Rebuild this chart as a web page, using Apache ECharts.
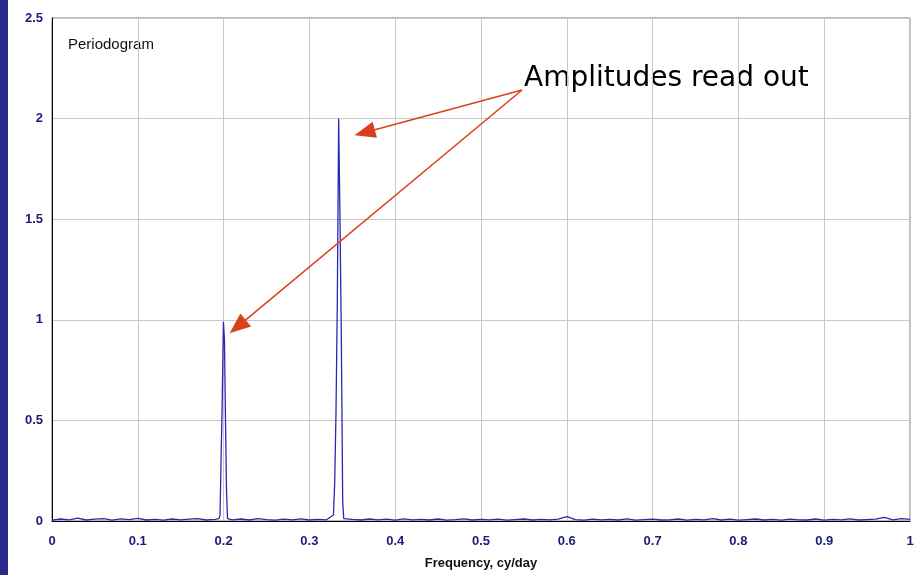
<!DOCTYPE html>
<html>
<head>
<meta charset="utf-8">
<script src="https://cdn.jsdelivr.net/npm/echarts@6/dist/echarts.min.js"></script>
<style>
html,body{margin:0;padding:0;background:#fff;}
#bar{position:absolute;left:0;top:0;width:8px;height:575px;background:#2b2b8c;}
#c{position:absolute;left:0;top:0;width:918px;height:575px;}
</style>
</head>
<body>
<div id="c"></div>
<div id="bar"></div>
<script>
// Frequency (cy/day) and amplitude
const freqs = [
  0.00,0.01,0.02,0.03,0.04,0.05,0.06,0.07,0.08,0.09,
  0.10,0.11,0.12,0.13,0.14,0.15,0.16,0.17,0.18,0.19,
  0.1946,0.1958,0.1970,0.1982,0.1998,0.2010,0.2022,0.2034,0.2046,
  0.21,0.22,0.23,0.24,0.25,0.26,0.27,0.28,0.29,0.30,0.31,0.32,
  0.3280,0.3295,0.3310,0.3325,0.3341,0.3357,0.3372,0.3388,0.3400,
  0.35,0.36,0.37,0.38,0.39,0.40,0.41,0.42,0.43,0.44,
  0.45,0.46,0.47,0.48,0.49,0.50,0.51,0.52,0.53,0.54,
  0.55,0.56,0.57,0.58,0.59,0.60,0.61,0.62,0.63,0.64,
  0.65,0.66,0.67,0.68,0.69,0.70,0.71,0.72,0.73,0.74,
  0.75,0.76,0.77,0.78,0.79,0.80,0.81,0.82,0.83,0.84,
  0.85,0.86,0.87,0.88,0.89,0.90,0.91,0.92,0.93,0.94,
  0.95,0.96,0.97,0.98,0.99,1.00
];
const amps = [
  0.004,0.010,0.006,0.014,0.005,0.009,0.012,0.004,0.011,0.007,
  0.013,0.005,0.008,0.004,0.010,0.006,0.009,0.012,0.005,0.008,
  0.012,0.030,0.290,0.550,0.990,0.900,0.500,0.150,0.012,
  0.006,0.010,0.005,0.012,0.007,0.004,0.009,0.006,0.011,0.005,0.008,0.006,
  0.030,0.190,0.540,1.070,2.000,1.480,0.920,0.100,0.012,
  0.008,0.005,0.010,0.006,0.009,0.004,0.011,0.006,0.008,0.005,
  0.010,0.004,0.007,0.011,0.005,0.008,0.006,0.009,0.004,0.007,
  0.010,0.005,0.008,0.006,0.009,0.022,0.007,0.004,0.009,0.006,
  0.008,0.005,0.011,0.004,0.007,0.009,0.005,0.006,0.010,0.004,
  0.008,0.006,0.012,0.005,0.009,0.004,0.007,0.010,0.005,0.008,
  0.004,0.009,0.006,0.005,0.010,0.004,0.008,0.006,0.011,0.005,
  0.007,0.009,0.018,0.006,0.012,0.008
];
const xTicks = [0,0.1,0.2,0.3,0.4,0.5,0.6,0.7,0.8,0.9,1];
const yTicks = [0,0.5,1,1.5,2,2.5];
const annotationText = 'Amplitudes read out';
const chartLabel = 'Periodogram';
const xName = 'Frequency, cy/day';

const data = freqs.map((f, i) => [f, amps[i]]);
const chart = echarts.init(document.getElementById('c'));
const labelStyle = {color:'#1c1c78', fontWeight:'bold', fontSize:13, fontFamily:'Liberation Sans, Arial, sans-serif'};
chart.setOption({
  animation:false,
  backgroundColor:'#fff',
  grid:{left:52, right:8, top:18, bottom:54, show:true, borderColor:'#777', borderWidth:1, backgroundColor:'#fff'},
  xAxis:{
    type:'value', min:xTicks[0], max:xTicks[xTicks.length-1], interval:0.1,
    name:xName, nameLocation:'middle', nameGap:36,
    nameTextStyle:{color:'#111', fontWeight:'bold', fontSize:13, fontFamily:'Liberation Sans, Arial, sans-serif'},
    axisLine:{lineStyle:{color:'#000', width:1}},
    axisTick:{show:false},
    axisLabel:Object.assign({margin:14}, labelStyle),
    splitLine:{show:true, lineStyle:{color:'#c8c8c8', width:1}}
  },
  yAxis:{
    type:'value', min:yTicks[0], max:yTicks[yTicks.length-1], interval:0.5,
    axisLine:{show:true, lineStyle:{color:'#000', width:1}},
    axisTick:{show:false},
    axisLabel:Object.assign({margin:9}, labelStyle),
    splitLine:{show:true, lineStyle:{color:'#c8c8c8', width:1}}
  },
  graphic:[
    {type:'text', left:68, top:37, style:{text:chartLabel, fill:'#111', fontSize:15, fontFamily:'Liberation Sans, Arial, sans-serif'}},
    {type:'text', left:524, top:65, style:{text:annotationText, fill:'#000', fontSize:28, fontFamily:'DejaVu Sans, sans-serif'}}
  ],
  series:[{
    type:'line', data:data, showSymbol:false, symbol:'none',
    lineStyle:{color:'#2828b8', width:1.3},
    silent:true,
    markLine:{
      silent:true, animation:false,
      symbol:['none','path://M0,0L8,20L-8,20Z'], symbolSize:21, symbolKeepAspect:true,
      label:{show:false},
      lineStyle:{color:'#d8411c', width:1.5, type:'solid'},
      emphasis:{disabled:true},
      data:[
        [{coord:[0.5478,2.142]},{coord:[0.3644,1.931]}],
        [{coord:[0.5478,2.142]},{coord:[0.2164,0.966]}]
      ]
    }
  }]
});
</script>
</body>
</html>
